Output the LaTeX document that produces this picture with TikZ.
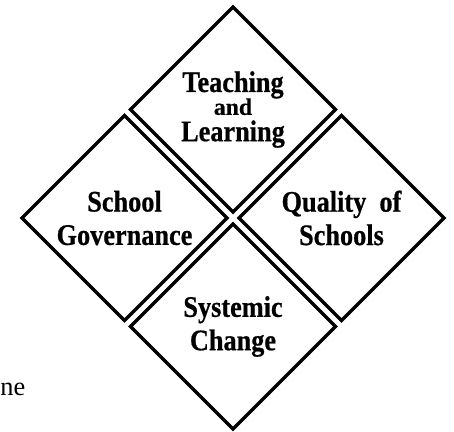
\documentclass[tikz,border=0pt]{standalone}
\usepackage{fontspec}
\setmainfont{Liberation Serif}
\newfontfamily\tilefont{Liberation Serif Bold}[FakeStretch=0.88,FakeBold=0.6]
\newfontfamily\joinfont{Liberation Serif Bold}[FakeBold=0.4]
\usetikzlibrary{positioning,shapes.geometric}

\begin{document}
\begin{tikzpicture}[x=0.02cm, y=0.02cm, node distance=1.2mm, every node/.style={align=center},
  tile/.style={draw, diamond, aspect=1, minimum size=4.1cm, inner sep=0pt, outer sep=0pt,
    line width=1.9pt, font=\tilefont\fontsize{17}{19}\selectfont},
  margin/.style={anchor=base west, inner sep=0pt, font=\fontsize{15}{15}\selectfont}]
\useasboundingbox (0,0) rectangle (454,432);
\coordinate (mid) at (233,214);
\node[tile, above=of mid] (teach) {Teaching\\[-6pt]{\joinfont\fontsize{13.5}{12}\selectfont and}\\[-4pt]Learning};
\node[tile, left=of mid] (gov) {School\\Governance};
\node[tile, right=of mid] (qual) {Quality~ of\\Schools};
\node[tile, below=of mid] (change) {Systemic\\Change};
% cut-off body text at the left margin
\node[margin] (ne) at (0,36) {ne};
\end{tikzpicture}
\end{document}
